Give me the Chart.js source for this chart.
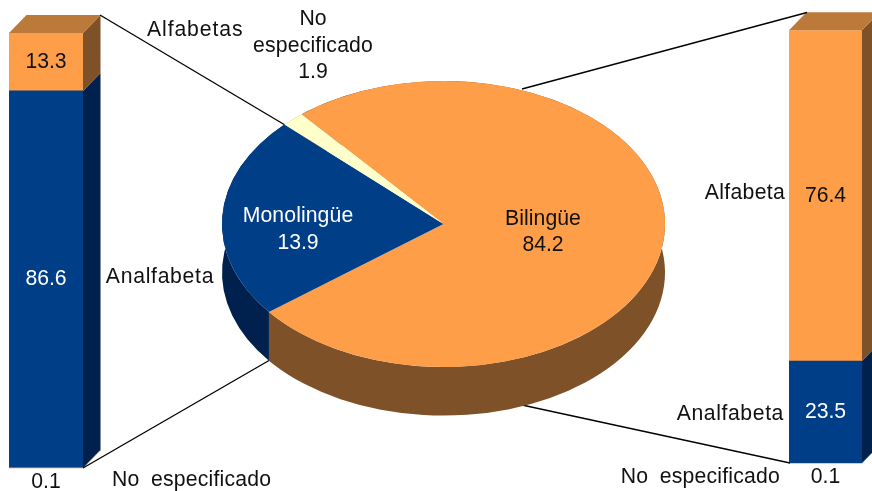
<!DOCTYPE html>
<html>
<head>
<meta charset="utf-8">
<style>
html,body{margin:0;padding:0;background:#fff;}
#wrap{position:relative;width:872px;height:491px;overflow:hidden;}
canvas{position:absolute;left:0;top:0;}
</style>
<script src="https://cdn.jsdelivr.net/npm/chart.js@4"></script>
</head>
<body>
<div id="wrap">
<canvas id="left" width="872" height="491"></canvas>
<canvas id="right" width="872" height="491"></canvas>
<canvas id="pie" width="872" height="491"></canvas>
</div>
<script>
// Bars: values as printed on the picture
const barCategories = ['No especificado', 'Analfabeta', 'Alfabeta'];
const monolingueBar = [0.1, 86.6, 13.3];
const bilingueBar = [0.1, 23.5, 76.4];

// Pie: values printed on the picture ...
const pieCategories = ['Bilingüe', 'Monolingüe', 'No especificado'];
const piePrintedValues = [84.2, 13.9, 1.9];
// ... and the shares the slices actually occupy in the picture, measured from
// their edges. The reference's slices are not drawn to its printed values.
const pieDrawnShares = [75.5, 22.8, 1.7];

const ORANGE = '#FF9E48', ORANGE_SIDE = '#7F5128', ORANGE_TOP = '#BC7A3A';
const BLUE = '#003F87', BLUE_SIDE = '#00214D', CREAM = '#FFFFCC';
const INK = '#111111';
const FONT = '21.2px "Liberation Sans", Arial, sans-serif';
const SQUASH = 0.6456, PIE_CY = 224, PIE_DEPTH = 48.6, BAR_DX = 17.5, BAR_DY = -18;

function text(ctx, str, x, y, color, align, spacing, wordGap) {
  ctx.save();
  ctx.font = FONT;
  ctx.fillStyle = color || INK;
  ctx.textAlign = align || 'center';
  ctx.textBaseline = 'middle';
  ctx.letterSpacing = (spacing || 0) + 'px';
  ctx.wordSpacing = (wordGap || 0) + 'px';
  ctx.fillText(str, x, y);
  ctx.restore();
}

const barSides = {
  id: 'barSides',
  afterDatasetsDraw(chart) {
    const ctx = chart.ctx;
    chart.data.datasets.forEach((ds, i) => {
      const el = chart.getDatasetMeta(i).data[0];
      const r = el.x + el.width / 2, l = el.x - el.width / 2;
      const top = Math.min(el.y, el.base), base = Math.max(el.y, el.base);
      ctx.fillStyle = ds.backgroundColor === BLUE ? BLUE_SIDE : ORANGE_SIDE;
      ctx.beginPath();
      ctx.moveTo(r, top); ctx.lineTo(r + BAR_DX, top + BAR_DY);
      ctx.lineTo(r + BAR_DX, base + BAR_DY); ctx.lineTo(r, base);
      ctx.closePath(); ctx.fill();
      if (i === chart.data.datasets.length - 1) {
        ctx.fillStyle = ORANGE_TOP;
        ctx.beginPath();
        ctx.moveTo(l, top); ctx.lineTo(l + BAR_DX, top + BAR_DY);
        ctx.lineTo(r + BAR_DX, top + BAR_DY); ctx.lineTo(r, top);
        ctx.closePath(); ctx.fill();
      }
    });
  }
};

const barValueLabels = {
  id: 'barValueLabels',
  afterDraw(chart) {
    const ctx = chart.ctx;
    chart.data.datasets.forEach((ds, i) => {
      const el = chart.getDatasetMeta(i).data[0];
      const v = ds.data[0].toFixed(1);
      if (i === 0) text(ctx, v, el.x, el.y + 14, INK);
      else text(ctx, v, el.x, (el.y + el.base) / 2, i === 1 ? '#ffffff' : INK);
    });
  }
};

function barChart(id, values, padding, bottomColor) {
  return new Chart(document.getElementById(id), {
    type: 'bar',
    data: {
      labels: ['Total'],
      datasets: barCategories.map((name, i) => ({
        label: name,
        data: [values[i]],
        backgroundColor: i === 0 ? bottomColor : (i === 1 ? BLUE : ORANGE),
        borderWidth: 0,
        barPercentage: 1,
        categoryPercentage: 1
      }))
    },
    plugins: [barSides, barValueLabels],
    options: {
      responsive: false,
      animation: false,
      layout: { padding },
      plugins: { legend: { display: false }, tooltip: { enabled: false } },
      scales: {
        x: { stacked: true, display: false },
        y: { stacked: true, display: false, min: 0, max: 100 }
      }
    }
  });
}

barChart('left', monolingueBar, { left: 9, right: 789, top: 33, bottom: 22.7 }, ORANGE);
barChart('right', bilingueBar, { left: 789, right: 10, top: 30.3, bottom: 27.7 }, BLUE);

function pieSpace(ctx, el) {
  ctx.translate(el.x, PIE_CY);
  ctx.scale(1, SQUASH);
  ctx.translate(-el.x, -el.y);
}

const pie3d = {
  id: 'pie3d',
  beforeDatasetsDraw(chart) {
    const ctx = chart.ctx;
    // connector lines sit underneath the pie
    ctx.save();
    ctx.strokeStyle = '#000';
    ctx.lineWidth = 1.3;
    [[100, 15, 285, 125], [83, 468, 269, 360.5], [522, 89, 807, 12.5], [522, 405, 790, 463]].forEach(s => {
      ctx.beginPath(); ctx.moveTo(s[0], s[1]); ctx.lineTo(s[2], s[3]); ctx.stroke();
    });
    ctx.restore();
    // wall of the cylinder, one band per slice between the rim and the rim moved down
    const arcs = chart.getDatasetMeta(0).data;
    const walls = [ORANGE_SIDE, BLUE_SIDE, '#7F7F66'];
    arcs.forEach((a, i) => {
      const ry = a.outerRadius * SQUASH;
      ctx.fillStyle = walls[i];
      ctx.beginPath();
      ctx.ellipse(a.x, PIE_CY + PIE_DEPTH, a.outerRadius, ry, 0, a.startAngle, a.endAngle);
      ctx.ellipse(a.x, PIE_CY, a.outerRadius, ry, 0, a.endAngle, a.startAngle, true);
      ctx.closePath();
      ctx.fill();
    });
  },
  beforeDatasetDraw(chart) {
    const ctx = chart.ctx;
    ctx.save();
    pieSpace(ctx, chart.getDatasetMeta(0).data[0]);
  },
  afterDatasetDraw(chart) {
    chart.ctx.restore();
  },
  afterDraw(chart) {
    const ctx = chart.ctx;
    text(ctx, pieCategories[1], 298, 216, '#ffffff', 'center', 0.1);
    text(ctx, piePrintedValues[1].toFixed(1), 298, 243, '#ffffff');
    text(ctx, pieCategories[0], 543, 219, INK, 'center', 0.05);
    text(ctx, piePrintedValues[0].toFixed(1), 543, 245, INK);
    text(ctx, 'No', 313, 19.5, INK);
    text(ctx, 'especificado', 313, 46.5, INK, 'center', 0.2);
    text(ctx, piePrintedValues[2].toFixed(1), 313, 72.5, INK);
    text(ctx, 'Alfabetas', 147, 30, INK, 'left', 0.9);
    text(ctx, barCategories[1], 160, 277, INK, 'center', 0.7);
    text(ctx, barCategories[0], 112, 480, INK, 'left', 0.2, 5.5);
    text(ctx, barCategories[2], 785, 193, INK, 'right', 0.3);
    text(ctx, barCategories[1], 784, 414, INK, 'right', 0.6);
    text(ctx, barCategories[0], 780, 477, INK, 'right', 0.2, 5.5);
  }
};

new Chart(document.getElementById('pie'), {
  type: 'pie',
  data: {
    labels: pieCategories,
    datasets: [{
      data: pieDrawnShares,
      backgroundColor: [ORANGE, BLUE, CREAM],
      borderWidth: 0
    }]
  },
  plugins: [pie3d],
  options: {
    responsive: false,
    animation: false,
    rotation: -39.8,
    layout: { padding: { left: 222, right: 207, top: 0, bottom: 48 } },
    plugins: { legend: { display: false }, tooltip: { enabled: false } }
  }
});
</script>
</body>
</html>
